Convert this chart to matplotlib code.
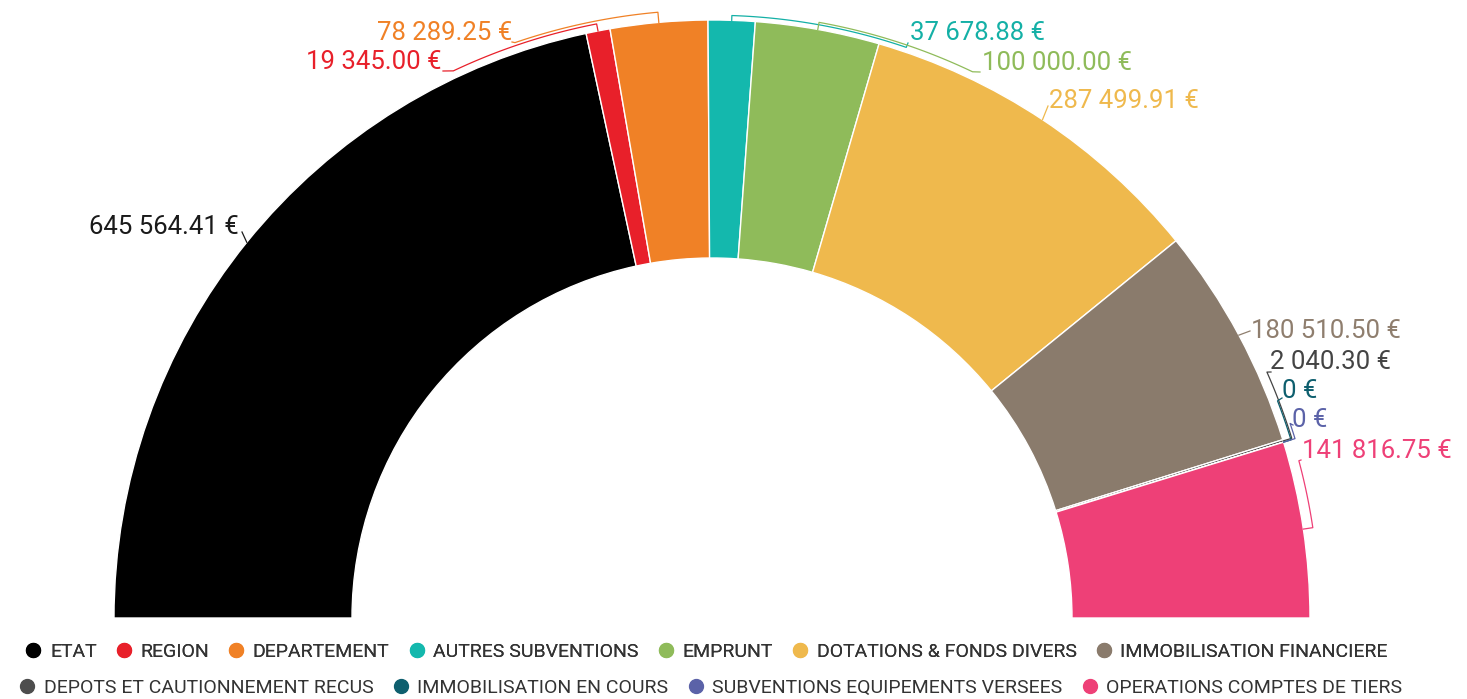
import numpy as np
import matplotlib
matplotlib.use("Agg")
import matplotlib.pyplot as plt
from matplotlib.lines import Line2D

plt.rcParams['font.family'] = ['Roboto', 'DejaVu Sans']

# ---- data ----
categories = ["ETAT", "REGION", "DEPARTEMENT", "AUTRES SUBVENTIONS", "EMPRUNT",
              "DOTATIONS & FONDS DIVERS", "IMMOBILISATION FINANCIERE",
              "DEPOTS ET CAUTIONNEMENT RECUS", "IMMOBILISATION EN COURS",
              "SUBVENTIONS EQUIPEMENTS VERSEES", "OPERATIONS COMPTES DE TIERS"]
amounts = [645564.41, 19345.00, 78289.25, 37678.88, 100000.00,
           287499.91, 180510.50, 2040.30, 0, 0, 141816.75]
colors = ["#000000", "#e8202a", "#f08126", "#14b8ad", "#8fbb5a",
          "#efb94d", "#8a7b6c", "#4d4d4d", "#0e5f6e", "#5b62a8", "#ee4077"]
label_colors = ["#1a1a1a", "#e8202a", "#f08126", "#14b0a6", "#8fbb5a",
                "#efb94d", "#8f7e6e", "#444444", "#0e5f6e", "#5b62a8", "#ee4077"]

# ---- layout (pixels of a 1467x699 image) ----
W, H = 1467, 699
CX, CY, R = 712, 618, 598          # donut centre and outer radius

def to_data(px, py):
    return (px - CX) / R, (CY - py) / R

# text anchor (px), alignment, leader arc radius, leader arc end angle, leader end (px)
label_pos = [(239, 227, 'right', 1.0, None, (242, 232)),
             (441, 62, 'right', 1.012, 115.3, (443, 71)),
             (512, 33, 'right', 1.017, 108.9, (512, 42)),
             (910, 33, 'left', 1.008, 71.2, (908, 43)),
             (982, 63, 'left', 1.012, 64.5, (980, 72)),
             (1049, 101, 'left', 1.0, None, (1048, 106)),
             (1251, 331, 'left', 1.0, None, (1250, 331)),
             (1270, 362, 'left', 1.015, 23.9, (1271, 372)),
             (1282, 391, 'left', 1.013, 21.0, (1282, 398)),
             (1292, 420, 'left', 1.02, 18.6, (1293, 425)),
             (1302, 451, 'left', 1.016, 15.0, (1301, 460))]

fig = plt.figure(figsize=(W / 100, H / 100), dpi=100)
ax = fig.add_axes([0, 0, 1, 1])

total = sum(amounts)
wedges, _ = ax.pie(amounts + [total], colors=colors + ['none'], startangle=180,
                   counterclock=False, radius=1,
                   wedgeprops=dict(width=0.398, edgecolor='white', linewidth=1))
wedges[-1].set_edgecolor('none')

ax.set_aspect('auto')
ax.set_xlim(-CX / R, (W - CX) / R)
ax.set_ylim(-(H - CY) / R, CY / R)
ax.axis('off')

# labels with leader lines
cum = 0
for i, v in enumerate(amounts):
    mid = 180 - (cum + v / 2) / total * 180
    cum += v
    tx, ty, ha, rr, end_ang, end_px = label_pos[i]
    pts = [(np.cos(np.radians(mid)), np.sin(np.radians(mid))),
           (rr * np.cos(np.radians(mid)), rr * np.sin(np.radians(mid)))]
    if end_ang is not None:
        angs = np.linspace(mid, end_ang, 40)
        pts += [(rr * np.cos(np.radians(a)), rr * np.sin(np.radians(a))) for a in angs]
    pts.append(to_data(*end_px))
    xs, ys = zip(*pts)
    ax.plot(xs, ys, color=label_colors[i], lw=0.9)
    txt = "0 €" if v == 0 else f"{v:,.2f}".replace(",", " ") + " €"
    x, y = to_data(tx, ty)
    ax.text(x, y, txt, ha=ha, va='center', fontsize=18.5, color=label_colors[i])

# legend in two centred rows
handles = [Line2D([], [], ls='', marker='o', markersize=10, color=c) for c in colors]
leg_kw = dict(loc='center', frameon=False, handletextpad=0.35, columnspacing=0.9,
              handlelength=1.0, borderpad=0, labelcolor='#333333',
              prop={'family': ['Roboto'], 'size': 14})
leg1 = fig.legend(handles[:7], categories[:7], ncol=7,
                  bbox_to_anchor=(0.481, 1 - 652 / H), **leg_kw)
fig.add_artist(leg1)
fig.legend(handles[7:], categories[7:], ncol=4,
           bbox_to_anchor=(0.484, 1 - 688 / H), **leg_kw)

fig.savefig("out.png", dpi=100, facecolor='white')
